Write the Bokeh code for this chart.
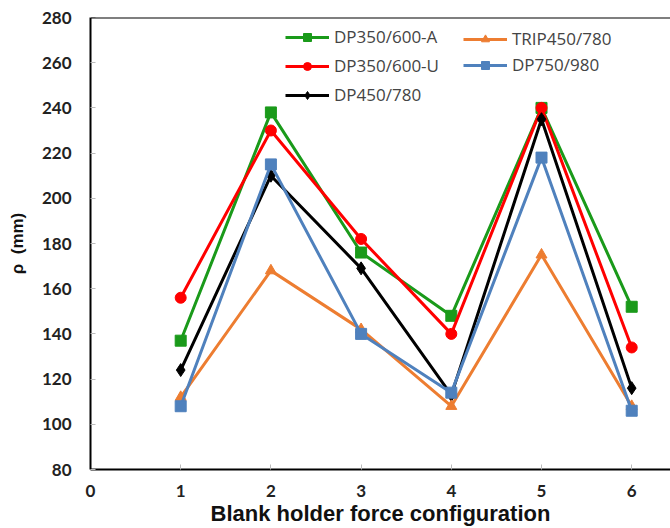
from bokeh.plotting import figure
from bokeh.models import Legend, LegendItem, Span, FixedTicker, Range1d
from bokeh.embed import file_html
from bokeh.resources import INLINE

configs = [1, 2, 3, 4, 5, 6]
dp350_a = [137, 238, 176, 148, 240, 152]
dp350_u = [156, 230, 182, 140, 240, 134]
dp450 = [124, 210, 169, 113, 235, 116]
trip450 = [112, 168, 142, 108, 175, 108]
dp750 = [108, 215, 140, 114, 218, 106]

x_ticks = [0, 1, 2, 3, 4, 5, 6]
y_ticks = [80, 100, 120, 140, 160, 180, 200, 220, 240, 260, 280]

p = figure(width=670, height=528, output_backend="svg", toolbar_location=None,
           x_range=Range1d(0, 6.43), y_range=Range1d(80, 280),
           min_border_left=90, min_border_right=0, min_border_top=17, min_border_bottom=58)
p.outline_line_color = None
p.xgrid.visible = False
p.ygrid.visible = False

series = [
    ("DP350/600-A", dp350_a, "#1A9A1A", "square", 11),
    ("DP350/600-U", dp350_u, "#FF0000", "circle", 11),
    ("DP450/780", dp450, "#000000", "diamond", 13),
    ("TRIP450/780", trip450, "#ED7D31", "triangle", 11),
    ("DP750/980", dp750, "#4F81BD", "square", 11),
]

items = {}
for name, vals, col, mk, sz in series:
    r1 = p.line(configs, vals, line_color=col, line_width=3)
    r2 = p.scatter(configs, vals, marker=mk, size=sz, fill_color=col, line_color=col)
    items[name] = LegendItem(label=name, renderers=[r1, r2])

top = Span(location=280, dimension="width", line_color="black", line_width=2)
p.add_layout(top)

for ax in (p.xaxis, p.yaxis):
    ax.axis_line_width = 2
    ax.axis_line_color = "black"
    ax.major_tick_in = 5
    ax.major_tick_out = 0
    ax.minor_tick_line_color = None
    ax.major_tick_line_color = "#BBBBBB"
    ax.major_label_text_font = "Lato"
    ax.major_label_text_font_style = "bold"
    ax.major_label_text_font_size = "17px"
    ax.major_label_text_color = "#222222"
    ax.axis_label_text_font = "Liberation Sans"
    ax.axis_label_text_font_style = "bold"
    ax.axis_label_text_color = "#111111"

p.xaxis.ticker = FixedTicker(ticks=x_ticks)
p.yaxis.ticker = FixedTicker(ticks=y_ticks)
p.xaxis.major_label_standoff = 15
p.yaxis.major_label_standoff = 19
p.xaxis.axis_label = "Blank holder force configuration"
p.xaxis.axis_label_text_font_size = "22px"
p.xaxis.axis_label_standoff = 1
p.yaxis.axis_label = "ρ\u00a0\u00a0(mm)"
p.yaxis.axis_label_text_font_size = "17px"
p.yaxis.axis_label_standoff = 12

common = dict(background_fill_alpha=0, border_line_color=None, padding=0, margin=0,
              label_text_font="Open Sans", label_text_font_size="17px",
              glyph_width=44, glyph_height=20, label_height=20, label_standoff=5)

leg1 = Legend(items=[items["DP350/600-A"], items["DP350/600-U"], items["DP450/780"]],
              location=(195, 363), spacing=6, **common)
leg2 = Legend(items=[items["TRIP450/780"], items["DP750/980"]],
              location=(373, 393), spacing=3, **common)
p.add_layout(leg1)
p.add_layout(leg2)

open("out.html", "w").write(file_html(p, INLINE))
